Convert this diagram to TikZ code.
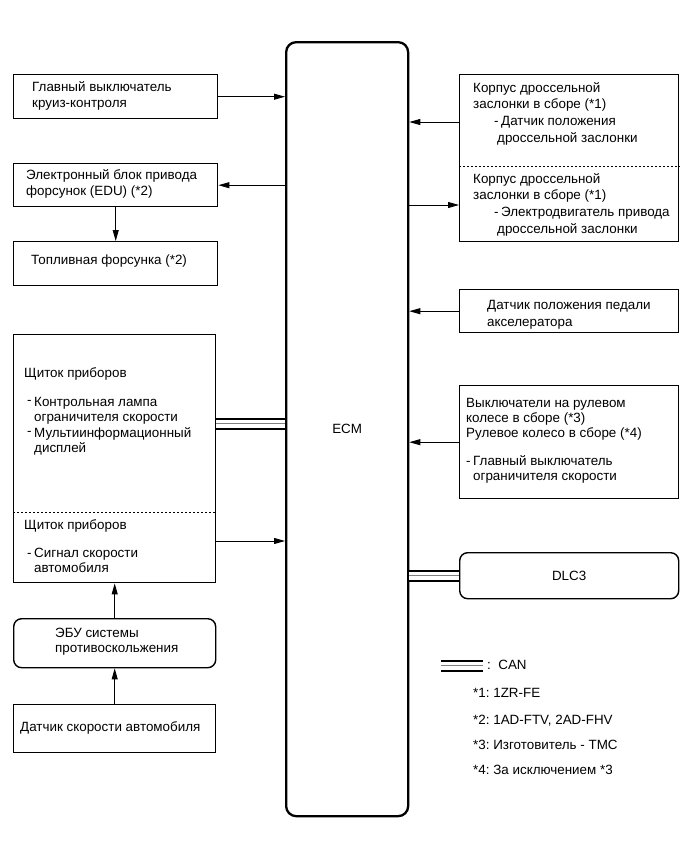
\documentclass[tikz,border=0pt]{standalone}
\usepackage{fontspec}
\setmainfont{Liberation Sans}
\usetikzlibrary{arrows.meta}
\newcommand\dsh{\makebox[7pt][l]{-}}
\newcommand\rdsh{\makebox[7pt][l]{\raisebox{2pt}{-}}}
\newcommand\ind{\hspace*{7pt}}
\frenchspacing
\begin{document}
\frenchspacing
\begin{tikzpicture}[x=1pt,y=-1pt,
  box/.style={draw, line width=1.4pt, inner sep=0pt, anchor=north west, minimum width=#1},
  box/.default=204pt,
  rbox/.style={box=#1, rounded corners=8pt},
  rbox/.default=204pt,
  txt/.style={anchor=north west, inner sep=0pt, align=left, font=\fontsize{13.4}{16}\selectfont},
  arr/.style={line width=0.9pt, -{Triangle[length=11pt,width=6pt]}},
  can/.style={line width=12pt, postaction={draw, white, line width=8pt}, postaction={draw, gray, line width=1pt}},
  sep/.style={line width=0.8pt, dash pattern=on 2pt off 2pt}]
\useasboundingbox (0,0) rectangle (690,855);
% ECM
\node[draw, line width=2.3pt, rounded corners=10pt, minimum width=122pt, minimum height=774pt, inner sep=0pt, anchor=north west,
  font=\fontsize{13.4}{16}\selectfont] (ecm) at (285,41) {ECM};
% left boxes
\node[box, minimum height=44pt] (b1) at (13,74) {};
\node[box, minimum height=43pt] (edu) at (13,163) {};
\node[box, minimum height=44pt] (fuel) at (13,241) {};
\node[box=202pt, minimum height=248pt] (panel) at (13,334) {};
\draw[sep] (panel.west |- 0,512) -- (panel.east |- 0,512);
\node[rbox=202pt, minimum height=49pt] (abs) at (13,618) {};
\node[box=202pt, minimum height=48pt] (speed) at (13,704) {};
% right boxes
\node[box=219pt, minimum height=167pt] (thr) at (459,74) {};
\draw[sep] (thr.west |- 0,166) -- (thr.east |- 0,166);
\node[box=219pt, minimum height=43pt] (acc) at (459,289) {};
\node[box=219pt, minimum height=113pt] (str) at (459,385) {};
\node[rbox=219pt, minimum height=46pt] (dlc) at (459,552) {};
\node[font=\fontsize{13.4}{16}\selectfont] (dlct) at (dlc.center) {DLC3};
% texts
\node[txt] (t1) at (32,81) {Главный выключатель\\круиз-контроля};
\node[txt] (t2) at (26,169) {Электронный блок привода\\форсунок (EDU) (*2)};
\node[txt] (t3) at (31,255) {Топливная форсунка (*2)};
\node[txt] (t4) at (24,367) {Щиток приборов};
\node[txt, font=\fontsize{13.4}{15.3}\selectfont] (t5) at (27,397) {\rdsh Контрольная лампа\\\ind ограничителя скорости\\\rdsh Мультиинформационный\\\ind дисплей};
\node[txt] (t6) at (24,519) {Щиток приборов};
\node[txt, font=\fontsize{13.4}{15.3}\selectfont] (t7) at (27,548) {\dsh Сигнал скорости\\\ind автомобиля};
\node[txt, font=\fontsize{13.4}{15}\selectfont] (t8) at (55,628) {ЭБУ системы\\противоскольжения};
\node[txt] (t9) at (20,721) {Датчик скорости автомобиля};
\node[txt, font=\fontsize{13.4}{16.7}\selectfont] (t10) at (473,82) {Корпус дроссельной\\заслонки в сборе (*1)\\\hspace*{21pt}\dsh Датчик положения\\\hspace*{24pt}дроссельной заслонки};
\node[txt, font=\fontsize{13.4}{16.7}\selectfont] (t11) at (473,173) {Корпус дроссельной\\заслонки в сборе (*1)\\\hspace*{21pt}\dsh Электродвигатель привода\\\hspace*{24pt}дроссельной заслонки};
\node[txt, font=\fontsize{13.4}{17}\selectfont] (t12) at (487,300) {Датчик положения педали\\акселератора};
\node[txt, font=\fontsize{13.4}{15}\selectfont] (t13) at (466,398) {Выключатели на рулевом\\колесе в сборе (*3)\\Рулевое колесо в сборе (*4)};
\node[txt, font=\fontsize{13.4}{15}\selectfont] (t14) at (466,455) {\dsh Главный выключатель\\\ind ограничителя скорости};
% legend
\coordinate (lg1) at (441,665.5);
\coordinate (lg2) at (483,665.5);
\draw[can] (lg1) -- (lg2);
\node[txt] (l0) at (487,660) {:\ \ CAN};
\node[txt] (l1) at (473,688) {*1: 1ZR-FE};
\node[txt] (l2) at (473,715) {*2: 1AD-FTV, 2AD-FHV};
\node[txt] (l3) at (473,740) {*3: Изготовитель - TMC};
\node[txt] (l4) at (473,765) {*4: За исключением *3};
% connectors
\coordinate (pc) at (215,423.5);
\coordinate (pa) at (215,541);
\coordinate (ta) at (459,122);
\coordinate (tb) at (459,205);
\draw[arr] (b1.east) -- (b1.east -| ecm.west);
\draw[arr] (edu.east -| ecm.west) -- (edu.east);
\draw[arr] (edu.south) -- (fuel.north);
\draw[can] (panel.east |- pc) -- (ecm.west |- pc);
\draw[arr] (panel.east |- pa) -- (ecm.west |- pa);
\draw[arr] (abs.north) -- (panel.south);
\draw[arr] (speed.north) -- (abs.south);
\draw[arr] (thr.west |- ta) -- (ecm.east |- ta);
\draw[arr] (ecm.east |- tb) -- (thr.west |- tb);
\draw[arr] (acc.west) -- (acc.west -| ecm.east);
\draw[arr] (str.west) -- (str.west -| ecm.east);
\draw[can] (dlc.west) -- (dlc.west -| ecm.east);
\end{tikzpicture}
\end{document}
